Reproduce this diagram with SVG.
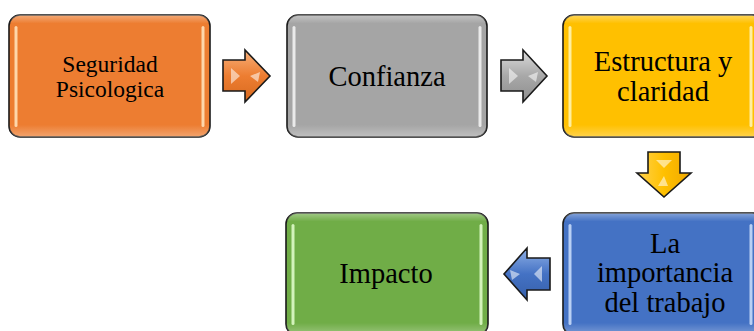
<svg xmlns="http://www.w3.org/2000/svg" width="754" height="331" viewBox="0 0 754 331">
  <defs>
    <style>
      .box { stroke: #1a1a1a; stroke-width: 1.6; }
      .shine { fill: url(#shine); stroke: none; }
      .strip { stroke: none; opacity: 0.9; }
      .lbl { font-family: "Liberation Serif", "Times New Roman", serif; fill: #000; text-anchor: middle; }
      .big { font-size: 28.5px; }
      .small { font-size: 23.5px; }
      .arrow { stroke: #1a1a1a; stroke-width: 1.6; stroke-linejoin: miter; }
      .glint { fill: #ffffff; opacity: 0.55; }
    </style>
    <linearGradient id="shine" x1="0" y1="0" x2="0" y2="1">
      <stop offset="0" stop-color="#fff" stop-opacity="0.35"/>
      <stop offset="0.07" stop-color="#fff" stop-opacity="0"/>
      <stop offset="0.9" stop-color="#fff" stop-opacity="0"/>
      <stop offset="1" stop-color="#fff" stop-opacity="0.3"/>
    </linearGradient>
    <linearGradient id="gOrange" x1="0" y1="0" x2="0" y2="1">
      <stop offset="0" stop-color="#f7b07a"/>
      <stop offset="0.5" stop-color="#ed7d31"/>
      <stop offset="1" stop-color="#d86a1f"/>
    </linearGradient>
    <linearGradient id="gGray" x1="0" y1="0" x2="0" y2="1">
      <stop offset="0" stop-color="#dcdcdc"/>
      <stop offset="0.5" stop-color="#a8a8a8"/>
      <stop offset="1" stop-color="#8e8e8e"/>
    </linearGradient>
    <linearGradient id="gYellow" x1="0" y1="0" x2="1" y2="0">
      <stop offset="0" stop-color="#ffd24d"/>
      <stop offset="0.5" stop-color="#ffc000"/>
      <stop offset="1" stop-color="#f0a800"/>
    </linearGradient>
    <linearGradient id="gBlue" x1="0" y1="0" x2="0" y2="1">
      <stop offset="0" stop-color="#8fb0e6"/>
      <stop offset="0.5" stop-color="#4472c4"/>
      <stop offset="1" stop-color="#3660ab"/>
    </linearGradient>
  </defs>

  <!-- connectors -->
  <g id="connectors">
    <g id="arrow-1">
      <polygon class="arrow" fill="url(#gOrange)" points="223,60 245,60 245,50 270,76 245,102 245,91 223,91"/>
      <polygon class="glint" points="231,68 240,76 231,84"/>
      <polygon class="glint" points="250,76 260,72 258,82"/>
    </g>
    <g id="arrow-2">
      <polygon class="arrow" fill="url(#gGray)" points="501,60 523,60 523,50 547,76 523,102 523,91 501,91"/>
      <polygon class="glint" points="509,68 518,76 509,84"/>
      <polygon class="glint" points="528,76 538,72 536,82"/>
    </g>
    <g id="arrow-3">
      <polygon class="arrow" fill="url(#gYellow)" points="648,152 680,152 680,173 691,173 664,197 637,173 648,173"/>
      <polygon class="glint" points="656,160 672,160 664,168"/>
      <polygon class="glint" points="664,176 668,186 658,186"/>
    </g>
    <g id="arrow-4">
      <polygon class="arrow" fill="url(#gBlue)" points="550,258 550,290 527,290 527,300 504,274 527,248 527,258"/>
      <polygon class="glint" points="542,266 542,282 534,274"/>
      <polygon class="glint" points="520,274 510,270 512,280"/>
    </g>
  </g>

  <!-- Seguridad Psicologica -->
  <g id="node-seguridad">
    <rect class="box" x="9" y="15" width="201" height="122" rx="11" fill="#ed7d31"/>
    <rect class="shine" x="9" y="15" width="201" height="122" rx="11"/>
    <rect class="strip" x="14.5" y="26" width="3" height="101" rx="1.5" fill="#ffe0b8"/>
    <rect class="strip" x="201.5" y="26" width="3" height="101" rx="1.5" fill="#ffe0b8"/>
    <text class="lbl small" x="110" y="72">Seguridad</text>
    <text class="lbl small" x="110" y="97">Psicologica</text>
  </g>

  <!-- Confianza -->
  <g id="node-confianza">
    <rect class="box" x="287" y="15" width="200" height="122" rx="11" fill="#a5a5a5"/>
    <rect class="shine" x="287" y="15" width="200" height="122" rx="11"/>
    <rect class="strip" x="292.5" y="26" width="3" height="101" rx="1.5" fill="#f2f2f2"/>
    <rect class="strip" x="478.5" y="26" width="3" height="101" rx="1.5" fill="#f2f2f2"/>
    <text class="lbl big" x="387" y="86">Confianza</text>
  </g>

  <!-- Estructura y claridad -->
  <g id="node-estructura">
    <rect class="box" x="563" y="15" width="200" height="122" rx="11" fill="#ffc000"/>
    <rect class="shine" x="563" y="15" width="200" height="122" rx="11"/>
    <rect class="strip" x="568.5" y="26" width="3" height="101" rx="1.5" fill="#fff4b0"/>
    <rect class="strip" x="749.5" y="26" width="3" height="101" rx="1.5" fill="#fff4b0"/>
    <text class="lbl big" x="663" y="71">Estructura y</text>
    <text class="lbl big" x="663" y="101">claridad</text>
  </g>

  <!-- La importancia del trabajo -->
  <g id="node-importancia">
    <rect class="box" x="563" y="213" width="200" height="122" rx="11" fill="#4472c4"/>
    <rect class="shine" x="563" y="213" width="200" height="122" rx="11"/>
    <rect class="strip" x="568.5" y="224" width="3" height="101" rx="1.5" fill="#c6dafa"/>
    <rect class="strip" x="749.5" y="224" width="3" height="101" rx="1.5" fill="#c6dafa"/>
    <text class="lbl big" x="665" y="253">La</text>
    <text class="lbl big" x="665" y="282">importancia</text>
    <text class="lbl big" x="665" y="312">del trabajo</text>
  </g>

  <!-- Impacto -->
  <g id="node-impacto">
    <rect class="box" x="286" y="213" width="202" height="122" rx="11" fill="#70ad47"/>
    <rect class="shine" x="286" y="213" width="202" height="122" rx="11"/>
    <rect class="strip" x="291.5" y="224" width="3" height="101" rx="1.5" fill="#defac8"/>
    <rect class="strip" x="479.5" y="224" width="3" height="101" rx="1.5" fill="#defac8"/>
    <text class="lbl big" x="386" y="283">Impacto</text>
  </g>
</svg>
